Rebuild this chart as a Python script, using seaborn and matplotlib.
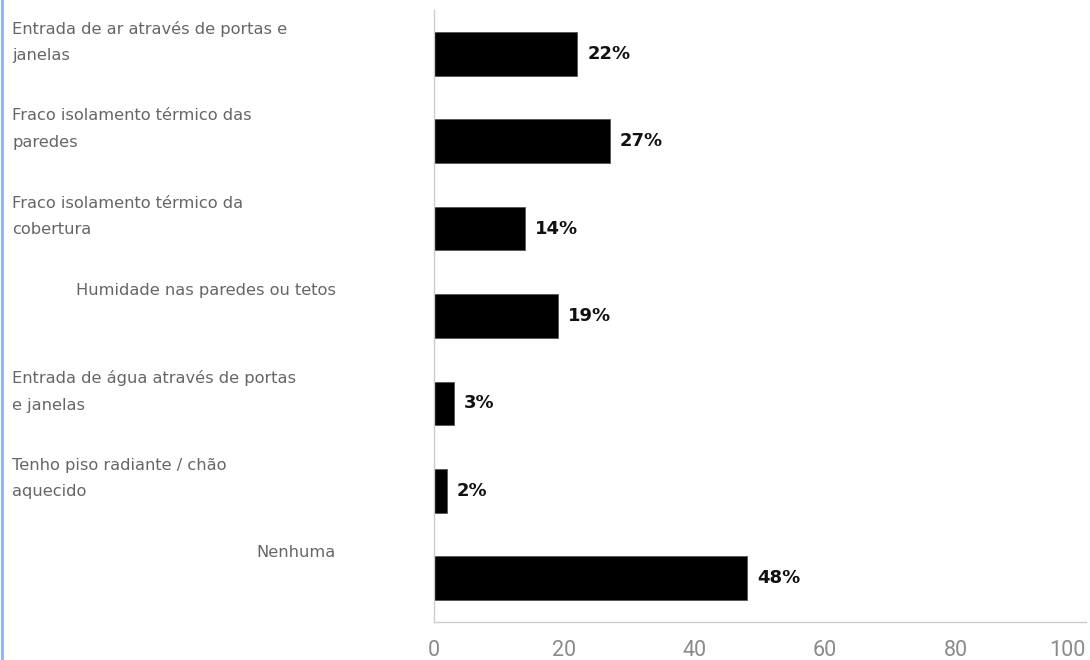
import matplotlib
matplotlib.use("Agg")
import matplotlib.pyplot as plt
import matplotlib.transforms as mtransforms
from matplotlib.lines import Line2D
import seaborn as sns
import pandas as pd

categories = [
    "Entrada de ar através de portas e\njanelas",
    "Fraco isolamento térmico das\nparedes",
    "Fraco isolamento térmico da\ncobertura",
    "Humidade nas paredes ou tetos",
    "Entrada de água através de portas\ne janelas",
    "Tenho piso radiante / chão\naquecido",
    "Nenhuma",
]
values = [22, 27, 14, 19, 3, 2, 48]
value_labels = ["22%", "27%", "14%", "19%", "3%", "2%", "48%"]
xticks = [0, 20, 40, 60, 80, 100]

sns.set_theme(style="white")
plt.rcParams["font.family"] = ["DejaVu Sans"]

df = pd.DataFrame({"cat": categories, "val": values})

fig = plt.figure(figsize=(10.9, 6.6), dpi=100)
ax = fig.add_axes([434 / 1090, 1 - 622 / 660, (1086 - 434) / 1090, (622 - 10) / 660])

sns.barplot(data=df, y="cat", x="val", orient="h", color="black",
            width=0.5, ax=ax, saturation=1, edgecolor="#555555", linewidth=0.6)

ax.set_xlim(0, 100)
ax.set_ylim(6.5, -0.5)
ax.set_xticks(xticks)
ax.set_xticklabels([str(t) for t in xticks])
for t in ax.get_xticklabels():
    t.set_fontfamily(["Roboto", "DejaVu Sans"])
    t.set_fontweight("normal")
    t.set_fontsize(15.5)
    t.set_color("#8a8a8a")
ax.get_xticklabels()[-1].set_ha("right")
ax.tick_params(axis="x", length=0, pad=13)
ax.set_yticks(range(len(categories)))
ax.set_yticklabels([])
ax.tick_params(axis="y", length=0)
ax.set_xlabel("")
ax.set_ylabel("")

for s in ["top", "right"]:
    ax.spines[s].set_visible(False)
for s in ["left", "bottom"]:
    ax.spines[s].set_color("#cccccc")
    ax.spines[s].set_linewidth(1.0)

# value labels
for i, (v, lab) in enumerate(zip(values, value_labels)):
    tr = mtransforms.offset_copy(ax.transData, fig=fig, x=10, y=0, units="dots")
    ax.text(v, i, lab, transform=tr, ha="left", va="center",
            fontsize=13, fontweight="bold", color="#111111")

# category labels
blend = mtransforms.blended_transform_factory(fig.transFigure, ax.transData)
for i, cat in enumerate(categories):
    tr = mtransforms.offset_copy(blend, fig=fig, x=0, y=33, units="dots")
    if "\n" in cat:
        ax.text(12 / 1090, i, cat, transform=tr, ha="left", va="top",
                fontsize=11.7, color="#666666", linespacing=1.95, clip_on=False)
    else:
        ax.text(336 / 1090, i, cat, transform=tr, ha="right", va="top",
                fontsize=11.7, color="#666666", clip_on=False)

# left blue frame line
fig.add_artist(Line2D([1.5 / 1090, 1.5 / 1090], [0, 1], transform=fig.transFigure,
                      color="#8ab4f8", linewidth=2))

fig.savefig("out.png", dpi=100)
